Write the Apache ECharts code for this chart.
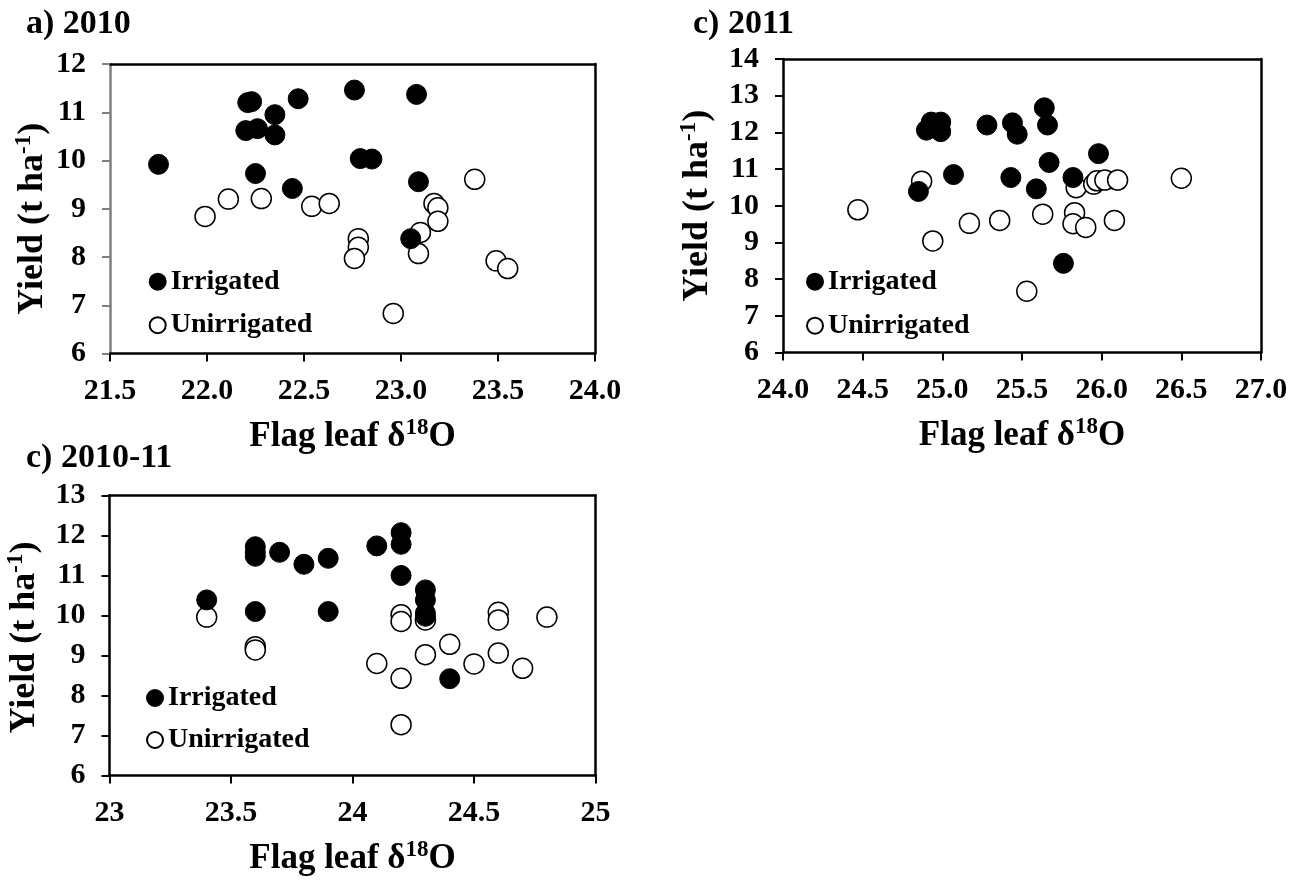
<!DOCTYPE html>
<html>
<head>
<meta charset="utf-8">
<script src="https://cdn.jsdelivr.net/npm/echarts@6/dist/echarts.min.js"></script>
<style>
html,body{margin:0;padding:0;background:#fff;}
#chart{width:1293px;height:880px;}
</style>
</head>
<body>
<div id="chart"></div>
<script>
// Panel a) 2010
const irr2010 = [[21.75,9.92],[22.21,11.20],[22.23,11.22],[22.47,11.28],[22.76,11.46],[23.08,11.37],
  [22.20,10.62],[22.26,10.66],[22.35,10.95],[22.35,10.53],[22.25,9.73],[22.44,9.42],
  [22.79,10.04],[22.85,10.03],[23.09,9.56],[23.05,8.38]];
const unirr2010 = [[21.99,8.84],[22.11,9.20],[22.28,9.21],[22.54,9.05],[22.63,9.11],[23.38,9.61],
  [23.17,9.11],[23.19,9.02],[23.19,8.74],[22.78,8.38],[22.78,8.20],[22.76,7.97],
  [23.10,8.51],[23.09,8.07],[23.49,7.92],[23.55,7.76],[22.96,6.83]];
// Panel c) 2011
const irr2011 = [[24.90,12.06],[24.93,12.28],[24.99,12.28],[24.99,12.02],[25.28,12.20],[25.44,12.26],
  [25.47,11.95],[25.64,12.67],[25.66,12.20],[25.67,11.18],[25.98,11.42],[25.07,10.85],
  [25.43,10.77],[25.82,10.77],[25.59,10.46],[24.85,10.39],[25.76,8.43]];
const unirr2011 = [[24.47,9.89],[24.87,10.67],[24.94,9.04],[25.17,9.52],[25.36,9.60],[25.63,9.77],
  [25.53,7.67],[25.83,9.81],[25.82,9.51],[25.90,9.41],[26.08,9.60],[25.84,10.49],
  [25.95,10.59],[25.97,10.68],[26.02,10.70],[26.10,10.70],[26.50,10.75]];
// Panel c) 2010-11
const irrBoth = [[23.4,10.39],[23.6,11.72],[23.6,11.58],[23.6,11.48],[23.7,11.58],[23.8,11.28],
  [23.9,11.43],[23.6,10.10],[23.9,10.10],[24.1,11.74],[24.2,12.07],[24.2,11.78],
  [24.2,11.00],[24.3,10.64],[24.3,10.39],[24.3,10.06],[24.3,9.98],[24.4,8.42]];
const unirrBoth = [[23.4,9.96],[23.6,9.22],[23.6,9.14],[24.2,10.02],[24.2,9.85],[24.3,9.89],
  [24.1,8.80],[24.2,8.43],[24.2,7.27],[24.3,9.02],[24.4,9.28],[24.5,8.79],
  [24.6,10.08],[24.6,9.89],[24.6,9.06],[24.7,8.68],[24.8,9.96]];

const panelTitles = ['a) 2010','c) 2011','c) 2010-11'];
const xTitle = '{a|Flag leaf δ}{s|18}{a|O}';
const yTitle = '{a|Yield (t ha}{s|-1}{a|)}';
const seriesNames = ['Irrigated','Unirrigated'];
const xRanges = [[21.5,24,0.5],[24,27,0.5],[23,25,0.5]];
const yRanges = [[6,12,1],[6,14,1],[6,13,1]];

const FONT = "'Liberation Serif','Times New Roman',serif";
const grids = [
  {left:110, top:64, width:485, height:289.5},
  {left:783, top:59, width:478, height:293.5},
  {left:109.5, top:495.5, width:486, height:280}
];
const xRich = {
  a:{fontSize:35,fontWeight:'bold',fontFamily:FONT,color:'#000',lineHeight:40},
  s:{fontSize:23,fontWeight:'bold',fontFamily:FONT,color:'#000',lineHeight:24,verticalAlign:'top'}
};
const yRich = {
  a:{fontSize:36,fontWeight:'bold',fontFamily:FONT,color:'#000',lineHeight:40},
  s:{fontSize:23,fontWeight:'bold',fontFamily:FONT,color:'#000',lineHeight:24,verticalAlign:'top'}
};
const yAxisColors = ['#808080','#000','#000'];
const xFmt = [v=>v.toFixed(1), v=>v.toFixed(1), v=>String(v)];
const yNameGap = [57,65,65];
const yNamePad = [[0,20,0,0],[0,0,0,0],[0,4,0,0]];

const xAxes = [], yAxes = [];
for (let i=0;i<3;i++){
  xAxes.push({
    type:'value', gridIndex:i, min:xRanges[i][0], max:xRanges[i][1], interval:xRanges[i][2],
    name:xTitle, nameLocation:'middle', nameGap:63,
    nameTextStyle:{rich:xRich},
    axisLine:{show:true,onZero:false,lineStyle:{color:'#000',width:2.5}},
    axisTick:{show:true,inside:false,length:8,lineStyle:{color:'#000',width:2}},
    axisLabel:{margin:23,fontSize:30,fontWeight:'bold',fontFamily:FONT,color:'#000',formatter:xFmt[i]},
    splitLine:{show:false}
  });
  yAxes.push({
    type:'value', gridIndex:i, min:yRanges[i][0], max:yRanges[i][1], interval:yRanges[i][2],
    name:yTitle, nameLocation:'middle', nameGap:yNameGap[i], nameRotate:90,
    nameTextStyle:{rich:yRich, padding:yNamePad[i]},
    axisLine:{show:true,onZero:false,lineStyle:{color:yAxisColors[i],width:2.5}},
    axisTick:{show:true,inside:false,length:8,lineStyle:{color:yAxisColors[i],width:2}},
    axisLabel:{margin:24,fontSize:30,fontWeight:'bold',fontFamily:FONT,color:'#000'},
    splitLine:{show:false}
  });
}
for (let i=0;i<3;i++){
  xAxes.push({
    type:'value', gridIndex:i, position:'top', min:xRanges[i][0], max:xRanges[i][1],
    axisLine:{show:true,onZero:false,lineStyle:{color:'#000',width:2.5}},
    axisTick:{show:false}, axisLabel:{show:false}, splitLine:{show:false}
  });
  yAxes.push({
    type:'value', gridIndex:i, position:'right', min:yRanges[i][0], max:yRanges[i][1],
    axisLine:{show:true,onZero:false,lineStyle:{color:'#000',width:2.5}},
    axisTick:{show:false}, axisLabel:{show:false}, splitLine:{show:false}
  });
}

const irrData = [irr2010, irr2011, irrBoth];
const unirrData = [unirr2010, unirr2011, unirrBoth];
const series = [];
for (let i=0;i<3;i++){
  series.push({
    name:seriesNames[0], type:'scatter', xAxisIndex:i, yAxisIndex:i, data:irrData[i],
    symbol:'circle', symbolSize:20, z:3,
    itemStyle:{color:'#000',borderColor:'#000',borderWidth:1,opacity:1}
  });
  series.push({
    name:seriesNames[1], type:'scatter', xAxisIndex:i, yAxisIndex:i, data:unirrData[i],
    symbol:'circle', symbolSize:20, z:2,
    itemStyle:{color:'#fff',borderColor:'#000',borderWidth:1.5,opacity:1}
  });
}

const legendPos = [{left:148.7,top:266.7,itemGap:13.5},{left:806,top:266.7,itemGap:14},{left:146,top:683,itemGap:12}];
const legends = legendPos.map(p=>({
  left:p.left, top:p.top, orient:'vertical', itemGap:p.itemGap, padding:0,
  itemWidth:16, itemHeight:16, icon:'circle', selectedMode:false,
  data:seriesNames,
  textStyle:{fontSize:28,fontWeight:'bold',fontFamily:FONT,color:'#000',lineHeight:30}
}));

const titlePos = [{left:26,top:7},{left:693,top:7},{left:26,top:441}];
const titles = panelTitles.map((t,i)=>({
  text:t, left:titlePos[i].left, top:titlePos[i].top, padding:0,
  textStyle:{fontSize:34,fontWeight:'bold',fontFamily:FONT,color:'#000'}
}));

const chart = echarts.init(document.getElementById('chart'), null, {renderer:'canvas'});
chart.setOption({
  backgroundColor:'#fff',
  animation:false,
  title:titles,
  legend:legends,
  grid:grids,
  xAxis:xAxes,
  yAxis:yAxes,
  series:series
});
</script>
</body>
</html>
